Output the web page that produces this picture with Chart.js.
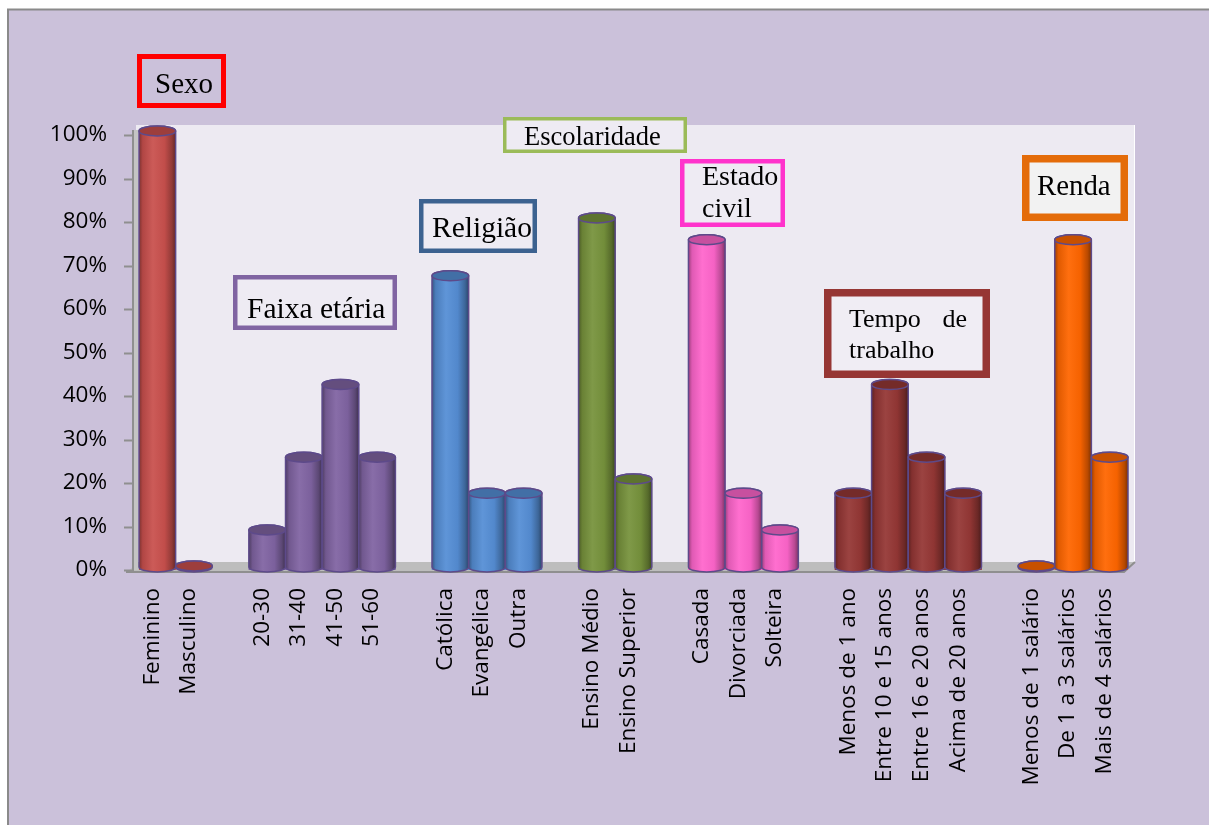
<!DOCTYPE html>
<html><head><meta charset="utf-8">
<script src="https://cdn.jsdelivr.net/npm/chart.js@4.4.1/dist/chart.umd.min.js"></script>
<style>html,body{margin:0;padding:0;background:#fff;overflow:hidden}#wrap{position:absolute;left:0;top:0;width:1209px;height:825px}</style>
</head><body><div id="wrap"><canvas id="c" width="1209" height="825"></canvas></div>
<script>
// ---- data ----
const sexoLabels = ['Feminino', 'Masculino'];
const sexoValues = [100, 0];
const faixaLabels = ['20-30', '31-40', '41-50', '51-60'];
const faixaValues = [8.3, 25, 41.7, 25];
const religiaoLabels = ['Católica', 'Evangélica', 'Outra'];
const religiaoValues = [66.7, 16.7, 16.7];
const escolaridadeLabels = ['Ensino Médio', 'Ensino Superior'];
const escolaridadeValues = [80, 20];
const estadoLabels = ['Casada', 'Divorciada', 'Solteira'];
const estadoValues = [75, 16.7, 8.3];
const tempoLabels = ['Menos de 1 ano', 'Entre 10 e 15 anos', 'Entre 16 e 20 anos', 'Acima de 20 anos'];
const tempoValues = [16.7, 41.7, 25, 16.7];
const rendaLabels = ['Menos de 1 salário', 'De 1 a 3 salários', 'Mais de 4 salários'];
const rendaValues = [0, 75, 25];
const yTickValues = [0, 10, 20, 30, 40, 50, 60, 70, 80, 90, 100];

// ---- styles ----
const groupColors = ['#C9504D', '#8064A2', '#558ED5', '#77933C', '#FF66CC', '#953735', '#FF6600'];
const groups = [
  [sexoLabels, sexoValues], [faixaLabels, faixaValues], [religiaoLabels, religiaoValues],
  [escolaridadeLabels, escolaridadeValues], [estadoLabels, estadoValues],
  [tempoLabels, tempoValues], [rendaLabels, rendaValues]
];
const categories = [], values = [], colors = [];
groups.forEach(([labs, vals], gi) => {
  if (gi > 0) { categories.push(''); values.push(null); colors.push('rgba(0,0,0,0)'); }
  labs.forEach((l, i) => { categories.push(l); values.push(vals[i]); colors.push(groupColors[gi]); });
});

function shade(hex, f) {
  const n = parseInt(hex.slice(1), 16);
  let r = (n >> 16) & 255, g = (n >> 8) & 255, b = n & 255;
  const t = f < 0 ? 0 : 255, p = Math.abs(f);
  r = Math.round(r + (t - r) * p); g = Math.round(g + (t - g) * p); b = Math.round(b + (t - b) * p);
  return 'rgb(' + r + ',' + g + ',' + b + ')';
}

const notes = [
  {lines: [['Sexo', 155, 93]], x: 137, y: 54, w: 89, h: 54, border: '#FF0000', lw: 5, fill: null, font: 29},
  {lines: [['Escolaridade', 524, 145]], x: 503, y: 117, w: 184, h: 36, border: '#9BBB59', lw: 3.5, fill: '#EEEBF3', font: 26.5},
  {lines: [['Religião', 432, 237]], x: 419, y: 199, w: 118, h: 54, border: '#3C6290', lw: 4.5, fill: '#EEEBF3', font: 29.5},
  {lines: [['Estado', 702, 185], ['civil', 702, 217]], x: 680, y: 159, w: 105, h: 68, border: '#FF33CC', lw: 4.5, fill: '#EEEBF3', font: 28},
  {lines: [['Faixa etária', 247, 318]], x: 233, y: 275, w: 164, h: 55, border: '#8064A2', lw: 4.5, fill: '#EEEBF3', font: 29.5},
  {lines: [['Tempo', 849, 327], ['de', 967, 327, 'right'], ['trabalho', 849, 358]], x: 824, y: 289, w: 166, h: 89, border: '#963634', lw: 7.5, fill: '#F0EDF4', font: 26},
  {lines: [['Renda', 1037, 195]], x: 1022, y: 155, w: 106, h: 66, border: '#E46C0A', lw: 7.5, fill: '#F2F2F2', font: 28.8}
];

const deco = {
  id: 'deco',
  beforeDraw(chart) {
    const ctx = chart.ctx, ys = chart.scales.y;
    ctx.save();
    ctx.fillStyle = '#FFFFFF'; ctx.fillRect(0, 0, 1209, 825);
    ctx.fillStyle = '#CBC1DA'; ctx.fillRect(9, 10, 1200, 815);
    ctx.strokeStyle = '#8A8A8A'; ctx.lineWidth = 2;
    ctx.beginPath(); ctx.moveTo(8, 825); ctx.lineTo(8, 9.5); ctx.lineTo(1209, 9.5); ctx.stroke();
    // back wall
    ctx.fillStyle = '#EDEAF2'; ctx.fillRect(136, 125, 998, 438);
    ctx.strokeStyle = '#FFFFFF'; ctx.lineWidth = 1;
    ctx.beginPath(); ctx.moveTo(1134.5, 125); ctx.lineTo(1134.5, 562); ctx.stroke();
    // floor
    ctx.fillStyle = '#BDBDBD';
    ctx.beginPath(); ctx.moveTo(137, 562); ctx.lineTo(1135, 562); ctx.lineTo(1124, 572); ctx.lineTo(128, 572); ctx.closePath(); ctx.fill();
    ctx.strokeStyle = '#8F8F8F'; ctx.lineWidth = 2;
    ctx.beginPath(); ctx.moveTo(126, 572); ctx.lineTo(1124, 572); ctx.lineTo(1135, 562); ctx.stroke();
    // side wall / axis
    ctx.fillStyle = '#C4C4C4'; ctx.fillRect(133, 130, 5, 440);
    ctx.strokeStyle = '#8F8F8F'; ctx.lineWidth = 2;
    ctx.beginPath(); ctx.moveTo(133, 130); ctx.lineTo(133, 572); ctx.stroke();
    yTickValues.forEach(v => {
      const y = Math.round(ys.getPixelForValue(v)) + 0.5;
      ctx.beginPath(); ctx.moveTo(124, y); ctx.lineTo(133, y); ctx.stroke();
    });
    ctx.restore();
  },
  afterDatasetsDraw(chart) {
    const ctx = chart.ctx;
    const meta = chart.getDatasetMeta(0);
    ctx.save();
    meta.data.forEach((el, i) => {
      if (values[i] === null || values[i] === undefined) return;
      const color = colors[i];
      const w = el.width, cx = el.x, l = cx - w / 2, r = cx + w / 2;
      const rx = w / 2, ry = 5;
      const bottomY = el.base - 3;
      const topY = Math.min(el.y - 4, bottomY);
      ctx.lineWidth = 1.5; ctx.strokeStyle = '#5D4A8A';
      if (bottomY - topY < 1) {
        ctx.beginPath(); ctx.ellipse(cx, bottomY + 1, rx, ry - 1, 0, 0, Math.PI * 2);
        ctx.fillStyle = shade(color, -0.2); ctx.fill(); ctx.stroke();
        return;
      }
      const g = ctx.createLinearGradient(l, 0, r, 0);
      g.addColorStop(0, shade(color, -0.38));
      g.addColorStop(0.1, shade(color, -0.12));
      g.addColorStop(0.38, shade(color, 0.06));
      g.addColorStop(0.7, shade(color, -0.04));
      g.addColorStop(0.9, shade(color, -0.28));
      g.addColorStop(1, shade(color, -0.5));
      ctx.beginPath();
      ctx.moveTo(l, topY);
      ctx.lineTo(l, bottomY);
      ctx.ellipse(cx, bottomY, rx, ry, 0, Math.PI, 0, true);
      ctx.lineTo(r, topY);
      ctx.ellipse(cx, topY, rx, ry, 0, 0, Math.PI, true);
      ctx.closePath();
      ctx.fillStyle = g; ctx.fill(); ctx.stroke();
      ctx.beginPath(); ctx.ellipse(cx, topY, rx, ry, 0, 0, Math.PI * 2);
      ctx.fillStyle = shade(color, -0.22); ctx.fill(); ctx.stroke();
    });
    ctx.restore();
  },
  afterDraw(chart) {
    const ctx = chart.ctx;
    ctx.save();
    notes.forEach(n => {
      if (n.fill) { ctx.fillStyle = n.fill; ctx.fillRect(n.x, n.y, n.w, n.h); }
      ctx.strokeStyle = n.border; ctx.lineWidth = n.lw;
      ctx.strokeRect(n.x + n.lw / 2, n.y + n.lw / 2, n.w - n.lw, n.h - n.lw);
      ctx.fillStyle = '#000000';
      ctx.font = n.font + 'px "Liberation Serif", "Times New Roman", serif';
      ctx.textBaseline = 'alphabetic';
      n.lines.forEach(([t, x, y, a]) => { ctx.textAlign = a || 'left'; ctx.fillText(t, x, y); });
    });
    ctx.restore();
  }
};

const axisFont = {family: '"Open Sans", sans-serif', size: 22.5};
new Chart(document.getElementById('c'), {
  type: 'bar',
  data: {
    labels: categories,
    datasets: [{data: values, backgroundColor: colors, borderWidth: 0, barPercentage: 1, categoryPercentage: 1}]
  },
  options: {
    responsive: false, animation: false, devicePixelRatio: 1,
    layout: {padding: {left: 0, top: 135, right: 81, bottom: 0}},
    plugins: {legend: {display: false}, tooltip: {enabled: false}},
    scales: {
      x: {
        grid: {display: false}, border: {display: false},
        ticks: {autoSkip: false, maxRotation: 90, minRotation: 90, padding: 10, labelOffset: -5, font: axisFont, color: '#000'},
        afterFit: s => { s.height = 255; }
      },
      y: {
        min: 0, max: 100,
        grid: {display: false}, border: {display: false},
        afterBuildTicks: s => { s.ticks = yTickValues.map(v => ({value: v})); },
        ticks: {padding: 24, font: axisFont, color: '#000', callback: v => v + '%'},
        afterFit: s => { s.width = 139; }
      }
    }
  },
  plugins: [deco]
});
</script></body></html>
